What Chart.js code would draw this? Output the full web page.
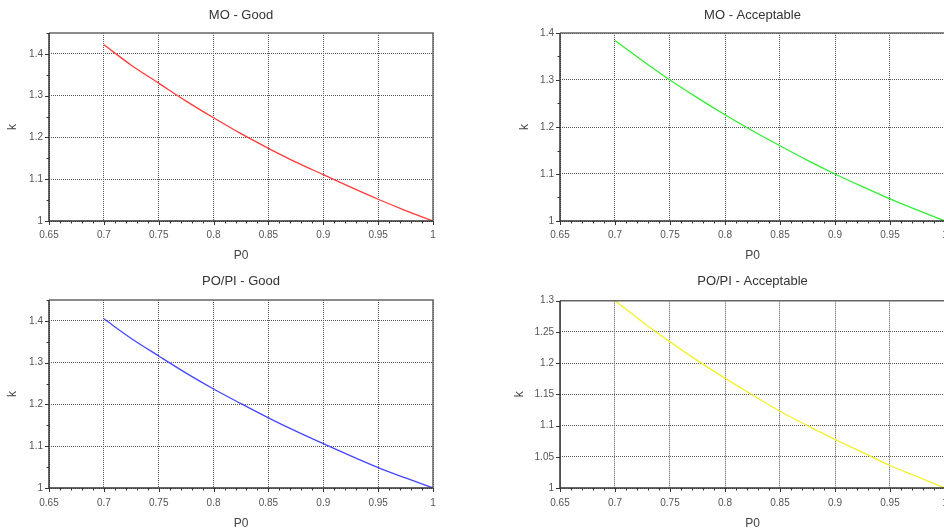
<!DOCTYPE html>
<html>
<head>
<meta charset="utf-8">
<script src="https://cdn.jsdelivr.net/npm/chart.js@4.4.1/dist/chart.umd.min.js"></script>
<style>
  html, body { margin: 0; padding: 0; background: #fff; width: 944px; height: 529px; overflow: hidden; position: relative; }
  .panel { position: absolute; }
  .panel canvas { display: block; }
</style>
</head>
<body>
<div class="panel" style="left:0;top:0;width:472px;height:264px"><canvas id="moGood" width="472" height="264" style="width:472px;height:264px"></canvas></div>
<div class="panel" style="left:472px;top:0;width:480px;height:264px"><canvas id="moAcc" width="480" height="264" style="width:480px;height:264px"></canvas></div>
<div class="panel" style="left:0;top:264px;width:472px;height:270px"><canvas id="poGood" width="472" height="270" style="width:472px;height:270px"></canvas></div>
<div class="panel" style="left:472px;top:264px;width:480px;height:270px"><canvas id="poAcc" width="480" height="270" style="width:480px;height:270px"></canvas></div>
<script>
// values
const p0 = [0.7, 0.725, 0.75, 0.775, 0.8, 0.825, 0.85, 0.875, 0.9, 0.925, 0.95, 0.975, 1.0];
const kMoGood = [1.422, 1.373, 1.330, 1.287, 1.247, 1.209, 1.174, 1.141, 1.111, 1.081, 1.052, 1.025, 1.000];
const kMoAcceptable = [1.384, 1.341, 1.300, 1.262, 1.226, 1.192, 1.160, 1.129, 1.100, 1.073, 1.047, 1.023, 1.000];
const kPoGood = [1.405, 1.358, 1.316, 1.275, 1.237, 1.202, 1.168, 1.136, 1.106, 1.077, 1.049, 1.024, 1.000];
const kPoAcceptable = [1.300, 1.266, 1.234, 1.204, 1.176, 1.149, 1.123, 1.100, 1.078, 1.057, 1.036, 1.018, 1.000];

const xTicks = [0.65, 0.7, 0.75, 0.8, 0.85, 0.9, 0.95, 1];
const yTicksTenth = [1, 1.1, 1.2, 1.3, 1.4];
const yTicksHalfTenth = [1, 1.05, 1.1, 1.15, 1.2, 1.25, 1.3];

const FONT = 'Liberation Sans, Arial, Helvetica, sans-serif';

// frame, axis lines and the small scilab-style ticks
const framePlugin = {
  id: 'frame',
  afterDatasetsDraw(chart, args, opts) {
    const {ctx, chartArea: a, scales} = chart;
    ctx.save();
    ctx.strokeStyle = '#666';
    ctx.lineWidth = 1.5;
    ctx.beginPath();
    ctx.moveTo(a.left, a.top); ctx.lineTo(a.right, a.top); ctx.lineTo(a.right, a.bottom);
    ctx.stroke();
    ctx.strokeStyle = '#333';
    ctx.lineWidth = 1.5;
    ctx.beginPath();
    ctx.moveTo(a.left, a.top); ctx.lineTo(a.left, a.bottom); ctx.lineTo(a.right, a.bottom);
    ctx.stroke();

    ctx.lineWidth = 1;
    ctx.beginPath();
    const x = scales.x, y = scales.y;
    for (let i = 0; i <= Math.round((x.max - x.min) / opts.xMinor); i++) {
      const v = x.min + i * opts.xMinor;
      const px = Math.round(x.getPixelForValue(v)) + 0.5;
      const major = i % Math.round(0.05 / opts.xMinor) === 0;
      ctx.moveTo(px, a.bottom);
      ctx.lineTo(px, a.bottom + (major ? 4 : 2.5));
    }
    if (opts.yMinor) {
      for (let i = 0; i <= Math.round((y.max - y.min) / opts.yMinor); i++) {
        const v = y.min + i * opts.yMinor;
        const py = Math.round(y.getPixelForValue(v)) + 0.5;
        ctx.moveTo(a.left, py);
        ctx.lineTo(a.left - (i % 2 === 0 ? 4 : 2.5), py);
      }
    } else {
      yTicksHalfTenth.forEach(v => {
        const py = Math.round(y.getPixelForValue(v)) + 0.5;
        ctx.moveTo(a.left, py);
        ctx.lineTo(a.left - 4, py);
      });
    }
    ctx.stroke();
    ctx.restore();
  }
};
Chart.register(framePlugin);

function makePanel(id, cfg) {
  const fmt = v => String(+(+v).toFixed(2));
  return new Chart(document.getElementById(id), {
    type: 'scatter',
    data: {
      datasets: [{
        data: p0.map((x, i) => ({x: x, y: cfg.values[i]})),
        showLine: true,
        borderColor: cfg.color,
        borderWidth: 1.3,
        pointRadius: 0,
        cubicInterpolationMode: 'monotone'
      }]
    },
    options: {
      responsive: false,
      animation: false,
      layout: {padding: {left: cfg.padLeft, right: cfg.padRight, top: 0, bottom: 0}},
      plugins: {
        legend: {display: false},
        tooltip: {enabled: false},
        title: {
          display: true,
          text: cfg.title,
          fullSize: false,
          color: '#333',
          font: {family: FONT, size: 13, weight: 'normal', lineHeight: 1.2},
          padding: {top: cfg.titleTop, bottom: cfg.titleBottom}
        },
        frame: {xMinor: 0.01, yMinor: cfg.yMinor}
      },
      scales: {
        x: {
          type: 'linear',
          min: 0.65, max: 1,
          afterFit: s => { s.height = cfg.xHeight; s.paddingRight = 0; s.paddingLeft = 0; },
          afterBuildTicks: s => { s.ticks = xTicks.map(v => ({value: v})); },
          ticks: {
            autoSkip: false, maxRotation: 0, padding: cfg.xLabelPad,
            color: '#555', font: {family: FONT, size: 10},
            callback: fmt
          },
          grid: {color: '#555', lineWidth: 1, drawTicks: false},
          border: {display: false, dash: [1, 1]},
          title: {
            display: true, text: 'P0', color: '#444',
            font: {family: FONT, size: 12},
            padding: {top: 0, bottom: cfg.p0Pad}
          }
        },
        y: {
          type: 'linear',
          min: 1, max: cfg.yMax,
          afterFit: s => { s.width = cfg.yWidth; },
          afterBuildTicks: s => { s.ticks = cfg.yTicks.map(v => ({value: v})); },
          ticks: {
            autoSkip: false, padding: 6,
            color: '#555', font: {family: FONT, size: 10},
            callback: fmt
          },
          grid: {color: '#555', lineWidth: 1, drawTicks: false},
          border: {display: false, dash: [1, 1]},
          title: {
            display: true, text: 'k', color: '#444',
            font: {family: FONT, size: 12},
            padding: {top: cfg.kPad, bottom: 0}
          }
        }
      }
    }
  });
}

makePanel('moGood', {
  title: 'MO - Good', values: kMoGood, color: '#ff3b3b',
  yMax: 1.45, yTicks: yTicksTenth, yMinor: 0.05,
  padLeft: 0, yWidth: 49, padRight: 39, kPad: 5.8,
  titleTop: 7.2, titleBottom: 10.2, xHeight: 43, xLabelPad: 8, p0Pad: 0.8
});
makePanel('moAcc', {
  title: 'MO - Acceptable', values: kMoAcceptable, color: '#33ee33',
  yMax: 1.4, yTicks: yTicksTenth, yMinor: 0.05,
  padLeft: 40, yWidth: 48, padRight: 7, kPad: 5.8,
  titleTop: 7.2, titleBottom: 10.2, xHeight: 43, xLabelPad: 8, p0Pad: 0.8
});
makePanel('poGood', {
  title: 'PO/PI - Good', values: kPoGood, color: '#4646ff',
  yMax: 1.45, yTicks: yTicksTenth, yMinor: 0.05,
  padLeft: 0, yWidth: 49, padRight: 39, kPad: 5.8,
  titleTop: 9.2, titleBottom: 11.2, xHeight: 46, xLabelPad: 9, p0Pad: 2.8
});
makePanel('poAcc', {
  title: 'PO/PI - Acceptable', values: kPoAcceptable, color: '#f2f22a',
  yMax: 1.3, yTicks: yTicksHalfTenth, yMinor: null,
  padLeft: 40, yWidth: 48, padRight: 7, kPad: 0.8,
  titleTop: 9.5, titleBottom: 11.6, xHeight: 46, xLabelPad: 9, p0Pad: 2.8
});
</script>
</body>
</html>
